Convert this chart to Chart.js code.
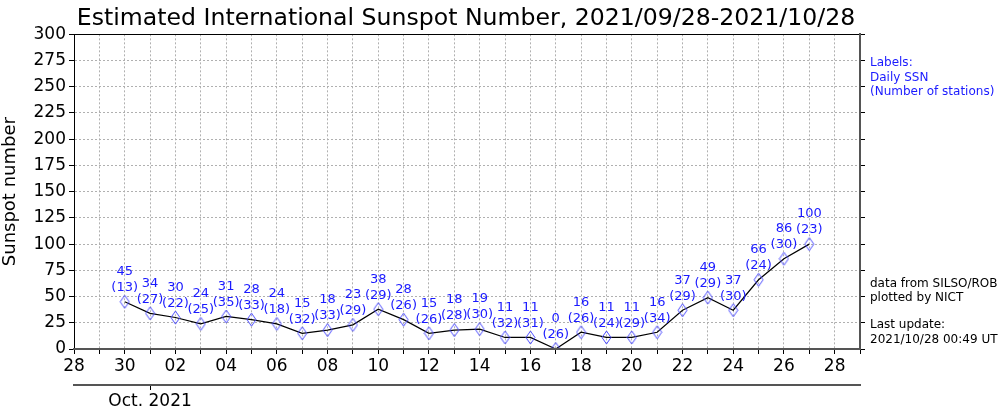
<!DOCTYPE html>
<html>
<head>
<meta charset="utf-8">
<script src="https://cdn.jsdelivr.net/npm/chart.js@4/dist/chart.umd.min.js"></script>
<style>
  html, body { margin: 0; padding: 0; background: #fff; }
  #wrap { width: 1000px; height: 412px; }
</style>
</head>
<body>
<div id="wrap"><canvas id="ssn-chart"></canvas></div>
<script>
// day-of-month labels, Sep 28 .. Oct 29
const days = ['28', '29', '30', '01', '02', '03', '04', '05', '06', '07', '08', '09', '10', '11', '12', '13',
    '14', '15', '16', '17', '18', '19', '20', '21', '22', '23', '24', '25', '26', '27', '28', '29'];

// daily sunspot number (null = no data)
const ssn = [null, null, 45, 34, 30, 24, 31, 28, 24, 15, 18, 23, 38, 28, 15, 18,
    19, 11, 11, 0, 16, 11, 11, 16, 37, 49, 37, 66, 86, 100, null, null];

// number of stations
const stations = [null, null, 13, 27, 22, 25, 35, 33, 18, 32, 33, 29, 29, 26, 26, 28,
    30, 32, 31, 26, 26, 24, 29, 34, 29, 29, 30, 24, 30, 23, null, null];

const monthLabel = 'Oct. 2021';
const monthIndex = 3; // Oct 01

const FONT = 'DejaVu Sans';

// thin diamond marker like matplotlib 'd'
function makeDiamond() {
    const c = document.createElement('canvas');
    c.width = 11;
    c.height = 15;
    const g = c.getContext('2d');
    g.strokeStyle = '#4b4bff';
    g.lineWidth = 1;
    g.beginPath();
    g.moveTo(5.5, 1);
    g.lineTo(10, 7.5);
    g.lineTo(5.5, 14);
    g.lineTo(1, 7.5);
    g.closePath();
    g.stroke();
    return c;
}

// labels above each point + frame + side notes
const annotate = {
    id: 'annotate',
    afterDatasetsDraw(chart) {
        const ctx = chart.ctx;
        const area = chart.chartArea;
        const meta = chart.getDatasetMeta(0);

        ctx.save();
        ctx.font = '13px "' + FONT + '"';
        ctx.fillStyle = '#1a1aff';
        ctx.textAlign = 'center';
        ctx.textBaseline = 'middle';
        meta.data.forEach((pt, i) => {
            if (ssn[i] === null) return;
            ctx.fillText(String(ssn[i]), pt.x, pt.y - 30);
            ctx.fillText('(' + stations[i] + ')', pt.x, pt.y - 14);
        });

        // frame: top/left black, right/bottom dark grey
        ctx.lineWidth = 1;
        ctx.strokeStyle = '#000';
        ctx.beginPath();
        ctx.moveTo(Math.round(area.left) + 0.5, Math.round(area.bottom));
        ctx.lineTo(Math.round(area.left) + 0.5, Math.round(area.top) + 0.5);
        ctx.lineTo(Math.round(area.right), Math.round(area.top) + 0.5);
        ctx.stroke();
        ctx.lineWidth = 2;
        ctx.strokeStyle = '#555';
        ctx.beginPath();
        ctx.moveTo(Math.round(area.right), Math.round(area.top));
        ctx.lineTo(Math.round(area.right), Math.round(area.bottom));
        ctx.lineTo(Math.round(area.left), Math.round(area.bottom));
        ctx.stroke();

        // side notes
        ctx.textAlign = 'left';
        ctx.font = '12px "' + FONT + '"';
        ctx.fillStyle = '#1a1aff';
        const x = area.right + 10;
        ctx.fillText('Labels:', x, 63);
        ctx.fillText('Daily SSN', x, 78);
        ctx.fillText('(Number of stations)', x, 92);
        ctx.fillStyle = '#000';
        ctx.fillText('data from SILSO/ROB', x, 284);
        ctx.fillText('plotted by NICT', x, 298);
        ctx.fillText('Last update:', x, 325);
        ctx.fillText('2021/10/28 00:49 UT', x, 340);
        ctx.restore();
    }
};

const ctx = document.getElementById('ssn-chart').getContext('2d');
new Chart(ctx, {
    type: 'line',
    data: {
        labels: days,
        datasets: [{
            data: ssn,
            borderColor: '#000',
            borderWidth: 1.2,
            pointStyle: makeDiamond(),
            pointRadius: 6,
            tension: 0,
            fill: false,
        }]
    },
    options: {
        responsive: true,
        maintainAspectRatio: false,
        animation: false,
        layout: { padding: { left: 0, right: 68, top: 0, bottom: 0 } },
        plugins: {
            legend: { display: false },
            tooltip: { enabled: false },
            title: {
                display: true,
                text: 'Estimated International Sunspot Number, 2021/09/28-2021/10/28',
                color: '#000',
                font: { family: FONT, size: 23.6, weight: 'normal' },
                padding: { top: 5, bottom: 1 },
            },
        },
        scales: {
            x: {
                type: 'category',
                position: 'bottom',
                offset: false,
                grid: { color: '#b0b0b0', tickColor: '#000', tickLength: 5 },
                border: { display: true, color: '#555', width: 2, dash: [2, 2] },
                ticks: {
                    autoSkip: false,
                    maxRotation: 0,
                    color: '#000',
                    padding: 2,
                    font: { family: FONT, size: 17 },
                    callback: (v, i) => (i % 2 === 0 ? days[i] : ''),
                },
                afterFit: (s) => { s.height = 36; },
            },
            x2: {
                type: 'category',
                position: 'bottom',
                offset: false,
                labels: days,
                grid: {
                    drawOnChartArea: false,
                    tickLength: 5,
                    color: (c) => (c.index === monthIndex ? '#000' : 'rgba(0,0,0,0)'),
                },
                border: { display: true, color: '#555', width: 2 },
                ticks: {
                    autoSkip: false,
                    maxRotation: 0,
                    color: '#000',
                    padding: 1,
                    font: { family: FONT, size: 17 },
                    callback: (v, i) => (i === monthIndex ? monthLabel : ''),
                },
                afterFit: (s) => { s.height = 27; },
            },
            y: {
                position: 'left',
                min: 0,
                max: 300,
                grid: { color: '#b0b0b0', tickColor: '#000', tickLength: 5 },
                border: { display: true, color: '#000', dash: [2, 2] },
                ticks: {
                    stepSize: 25,
                    color: '#000',
                    padding: 3,
                    font: { family: FONT, size: 17 },
                },
                title: {
                    display: true,
                    text: 'Sunspot number',
                    color: '#000',
                    font: { family: FONT, size: 18 },
                    padding: { top: 0, bottom: 2 },
                },
                afterFit: (s) => { s.width = 74; },
            },
            y2: {
                position: 'right',
                min: 0,
                max: 300,
                grid: { drawOnChartArea: false, color: '#000', tickLength: 5 },
                border: { display: true, color: '#555', width: 2 },
                ticks: { stepSize: 25, callback: () => '' },
                afterFit: (s) => { s.width = 72; },
            },
        },
    },
    plugins: [annotate],
});
</script>
</body>
</html>
